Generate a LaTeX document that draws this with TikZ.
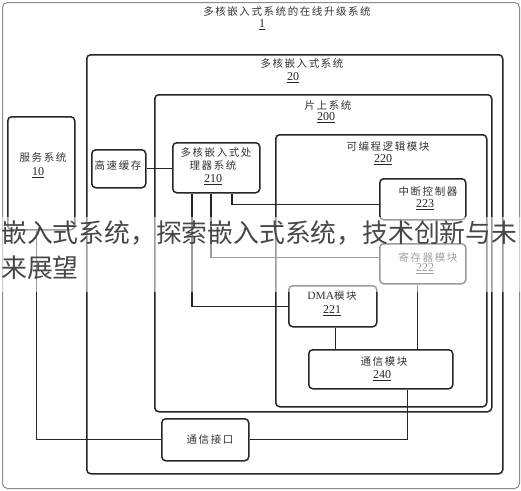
\documentclass[tikz,border=0pt]{standalone}
\usepackage{fontspec}
\setmainfont{Liberation Serif}
\newfontfamily\cjk[LetterSpace=15]{Noto Sans CJK SC}
\newfontfamily\cjkov{Noto Sans CJK SC}
\begin{document}
\begin{tikzpicture}[x=1pt,y=-1pt,
  box/.style={draw=black!85, line width=1.5pt, rounded corners=4pt, anchor=north west, inner sep=0pt},
  frame/.style={draw=black!45, line width=1pt, rounded corners=5pt, anchor=north west, inner sep=0pt},
  lbl/.style={font=\fontsize{10.5}{12}\selectfont\cjk, inner sep=0pt, text=black!80},
  num/.style={font=\fontsize{12}{13}\selectfont, inner sep=0pt, text=black!85},
  wire/.style={draw=black!85, line width=1.2pt},
  band/.style={fill=white, fill opacity=0.55, draw=none},
  over/.style={font=\fontsize{25.8}{30}\selectfont\cjkov, text=black!72, inner sep=0pt, anchor=west}]
\useasboundingbox (0,0) rectangle (521,490);
\fill[white] (0,0) rectangle (521,490);

% containers
\node[frame, minimum width=517pt, minimum height=486pt] (s1) at (2,2) {};
\node[box, minimum width=416pt, minimum height=419pt] (s20) at (86,54) {};
\node[box, minimum width=337pt, minimum height=317pt] (s200) at (154,94) {};
\node[box, minimum width=211pt, minimum height=272pt] (s220) at (275,134) {};

% blocks
\node[box, minimum width=67pt, minimum height=113pt] (s10) at (7,116) {};
\node[box, minimum width=54pt, minimum height=38pt] (cache) at (91,149) {};
\node[box, minimum width=87pt, minimum height=50pt] (s210) at (172,142) {};
\node[box, minimum width=86pt, minimum height=41pt] (s223) at (379,178) {};
\node[box, minimum width=86pt, minimum height=40pt] (s222) at (379,243) {};
\node[box, minimum width=88pt, minimum height=41pt] (s221) at (288,285) {};
\node[box, minimum width=144pt, minimum height=39pt] (s240) at (308,349) {};
\node[box, minimum width=87pt, minimum height=42pt] (port) at (161,418) {};

% labels
\node[lbl] (t1) at (287,11) {多核嵌入式系统的在线升级系统};
\node[num] (n1) at (262,25) {\underline{1}};
\node[lbl] (t20) at (302,63) {多核嵌入式系统};
\node[num] (n20) at (293,78) {\underline{20}};
\node[lbl] (t200) at (328,105) {片上系统};
\node[num] (n200) at (326,118) {\underline{200}};
\node[lbl] (t220) at (388,146) {可编程逻辑模块};
\node[num] (n220) at (383,160) {\underline{220}};
\node[lbl] (t10) at (43,157) {服务系统};
\node[num] (n10) at (38,173) {\underline{10}};
\node[lbl] (tcache) at (118,166) {高速缓存};
\node[lbl] (t210a) at (216,152) {多核嵌入式处};
\node[lbl] (t210b) at (213,165) {理器系统};
\node[num] (n210) at (213,180) {\underline{210}};
\node[lbl] (t223) at (428,192) {中断控制器};
\node[num] (n223) at (425,205) {\underline{223}};
\node[lbl] (t222) at (428,257) {寄存器模块};
\node[num] (n222) at (425,269) {\underline{222}};
\node[lbl] (t221) at (332,296) {{\rmfamily\fontsize{11.5}{12}\selectfont DMA}模块};
\node[num] (n221) at (332,311) {\underline{221}};
\node[lbl] (t240) at (384,362) {通信模块};
\node[num] (n240) at (382,376) {\underline{240}};
\node[lbl] (tport) at (210,440) {通信接口};

% connectors
\draw[wire] (cache.east) -- (cache.east -| s210.west);
\draw[wire] ([xshift=60pt]s210.south west) |- ([yshift=-5.5pt]s223.west);
\draw[wire] ([xshift=39pt]s210.south west) |- ([yshift=6pt]s222.west);
\draw[wire] ([xshift=20pt]s210.south west) |- (s221.west);
\draw[wire] ([xshift=3pt]s221.south) -- ([xshift=3pt]s221.south |- s240.north);
\draw[wire] ([xshift=-5pt]s222.south) -- ([xshift=-5pt]s222.south |- s240.north);
\draw[wire] ([xshift=27pt]s240.south) |- (port.east);
\draw[wire] ([xshift=-4.5pt]s10.south) |- (port.west);

% overlay band and text
\fill[band] (0,217) rectangle (521,292);
\node[over] (ov1) at (1,233) {嵌入式系统，探索嵌入式系统，技术创新与未};
\node[over] (ov2) at (1,268) {来展望};
\end{tikzpicture}
\end{document}
